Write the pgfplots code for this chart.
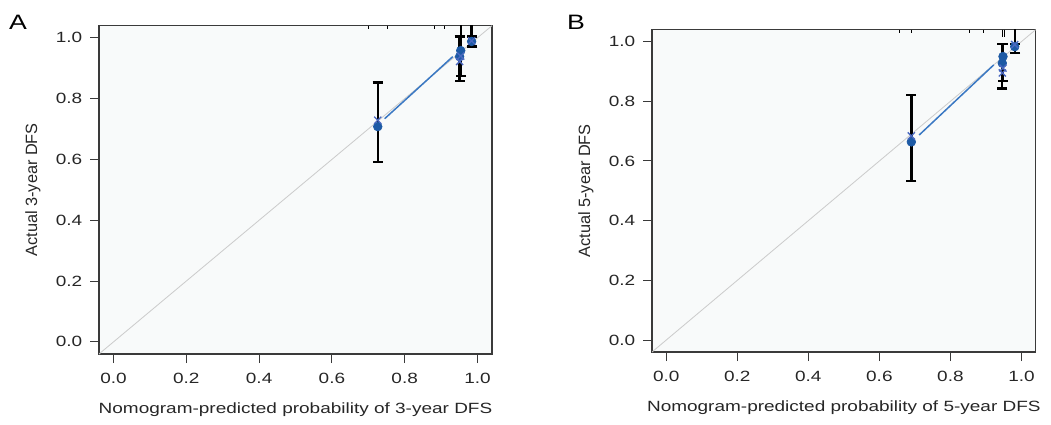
\documentclass[border=0pt]{standalone}
\usepackage{fontspec}
\setmainfont{Liberation Sans}[FakeStretch=1.28]
\newfontfamily\plainfont{Liberation Sans}
\usepackage{pgfplots}
\pgfplotsset{compat=1.18}
\definecolor{frame}{HTML}{3A3A3A}
\definecolor{bg}{HTML}{F8FAFA}
\definecolor{diag}{HTML}{CCCCCC}
\definecolor{dotblue}{HTML}{1D5AA5}
\definecolor{linblue}{HTML}{3A78C3}
\definecolor{xblue}{HTML}{4A68C0}
\pgfplotsset{
  calib/.style={
    scale only axis,
    xmin=-0.04, xmax=1.04, ymin=-0.04, ymax=1.04,
    xtick={0,0.2,...,1.0}, ytick={0,0.2,...,1.0},
    xtick pos=bottom, ytick pos=left,
    tick align=outside, major tick length=5.4pt,
    every tick/.style={frame, line width=0.6pt},
    axis line style={frame, line width=0.8pt},
    axis background/.style={fill=bg},
    tick label style={font=\fontsize{8.9}{10}\selectfont, text=black!85},
    label style={font=\fontsize{8.9}{10}\selectfont, text=black!85},
    /pgf/number format/.cd, fixed, fixed zerofill, precision=1, assume math mode=true,
    /pgfplots/.cd,
    yticklabel style={xshift=-1.5pt},
    xticklabel style={yshift=-3.2pt},
    xlabel style={yshift=-5pt},
    ylabel style={yshift=3pt, font=\plainfont\fontsize{9.8}{11}\selectfont},
    clip=true,
  },
  ebars/.style={draw=none, mark=none, forget plot,
    error bars/.cd, y dir=both, y explicit,
    error bar style={black, line width=1.4pt},
    error mark options={rotate=90, black, mark size=3pt, line width=1.4pt}},
}
\begin{document}
\fontsize{8.9}{10}\selectfont
\begin{tikzpicture}
\path[use as bounding box] (0,0) rectangle (630.6pt,254.4pt);
% Panel A
\begin{axis}[calib, at={(59.4pt,42pt)}, anchor=south west,
  width=235.8pt, height=197pt,
  xlabel={Nomogram-predicted probability of 3-year DFS},
  ylabel={Actual 3-year DFS}]
\addplot[diag, line width=0.5pt] coordinates {(-0.04,-0.04) (1.04,1.04)};
\addplot[black, line width=0.4pt, unbounded coords=jump] coordinates {
 (0.699,1.04) (0.699,1.028) (nan,nan)
 (0.751,1.04) (0.751,1.028) (nan,nan)
 (0.882,1.04) (0.882,1.028) (nan,nan)
 (0.910,1.04) (0.910,1.028) (nan,nan)};
\addplot[linblue, line width=0.9pt] coordinates {(0.745,0.734) (0.932,0.938)};
\addplot[ebars] coordinates {
  (0.726,0.722) +- (0,0.131)
  (0.951,0.9305) +- (0,0.0735)
  (0.955,0.9775) +- (0,0.1025)
  (0.984,1.0255) +- (0,0.0545)
  (0.986,0.987) +- (0,0.017)};
\addplot[only marks, mark=*, mark size=2.6pt, dotblue] coordinates {
  (0.726,0.708) (0.951,0.938) (0.954,0.958) (0.984,0.988)};
\addplot[only marks, mark=x, mark size=3pt, xblue, line width=0.8pt] coordinates {
  (0.726,0.729) (0.951,0.922) (0.954,0.940) (0.984,0.990)};
\end{axis}
\node[font=\fontsize{12.5}{14}\selectfont] at (10.8pt,241.2pt) {A};
% Panel B
\begin{axis}[calib, at={(391.2pt,43.2pt)}, anchor=south west,
  width=230.2pt, height=193.4pt,
  xlabel={Nomogram-predicted probability of 5-year DFS},
  ylabel={Actual 5-year DFS}]
\addplot[diag, line width=0.5pt] coordinates {(-0.04,-0.04) (1.04,1.04)};
\addplot[black, line width=0.4pt, unbounded coords=jump] coordinates {
 (0.656,1.04) (0.656,1.028) (nan,nan)
 (0.690,1.04) (0.690,1.028) (nan,nan)
 (0.852,1.04) (0.852,1.028) (nan,nan)
 (0.894,1.04) (0.894,1.028) (nan,nan)
 (0.945,1.04) (0.945,1.015) (nan,nan)
 (0.953,1.04) (0.953,1.015)};
\addplot[linblue, line width=0.9pt] coordinates {(0.712,0.687) (0.922,0.922)};
\addplot[ebars] coordinates {
  (0.690,0.6765) +- (0,0.1445)
  (0.946,0.917) +- (0,0.074)
  (0.948,0.929) +- (0,0.062)
  (0.981,1.0205) +- (0,0.0595)
  (0.982,0.976) +- (0,0.015)};
\addplot[only marks, mark=*, mark size=2.6pt, dotblue] coordinates {
  (0.690,0.664) (0.946,0.928) (0.948,0.950) (0.981,0.983)};
\addplot[only marks, mark=x, mark size=3pt, xblue, line width=0.8pt] coordinates {
  (0.690,0.684) (0.946,0.895) (0.948,0.911) (0.981,0.990)};
\end{axis}
\node[font=\fontsize{12.5}{14}\selectfont] at (345.6pt,241.2pt) {B};
\end{tikzpicture}
\end{document}
